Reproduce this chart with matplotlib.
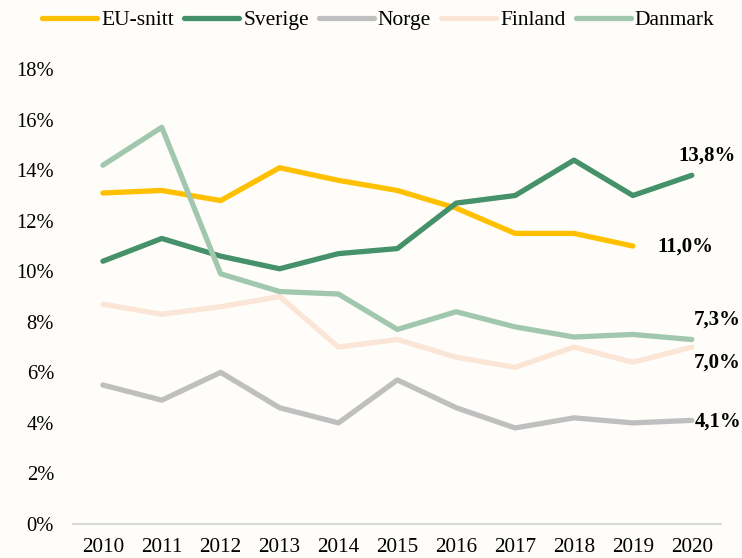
import matplotlib
matplotlib.use("Agg")
import matplotlib.pyplot as plt

years = [2010, 2011, 2012, 2013, 2014, 2015, 2016, 2017, 2018, 2019, 2020]
eu = [13.1, 13.2, 12.8, 14.1, 13.6, 13.2, 12.5, 11.5, 11.5, 11.0]
sverige = [10.4, 11.3, 10.6, 10.1, 10.7, 10.9, 12.7, 13.0, 14.4, 13.0, 13.8]
norge = [5.5, 4.9, 6.0, 4.6, 4.0, 5.7, 4.6, 3.8, 4.2, 4.0, 4.1]
finland = [8.7, 8.3, 8.6, 9.0, 7.0, 7.3, 6.6, 6.2, 7.0, 6.4, 7.0]
danmark = [14.2, 15.7, 9.9, 9.2, 9.1, 7.7, 8.4, 7.8, 7.4, 7.5, 7.3]

series = [
    ("EU-snitt", eu, "#FFC000"),
    ("Sverige", sverige, "#44916A"),
    ("Norge", norge, "#BFBFBF"),
    ("Finland", finland, "#FBE5D6"),
    ("Danmark", danmark, "#A1C8AF"),
]

plt.rcParams['font.family'] = ['Liberation Serif', 'DejaVu Serif']
bg = "#FFFDF9"
fig = plt.figure(figsize=(7.42, 5.58), dpi=100, facecolor=bg)
ax = fig.add_axes([0.099, 0.061, 0.873, 0.815], facecolor=bg)

x = list(range(len(years)))
for name, vals, col in series:
    ax.plot(x[:len(vals)], vals, color=col, lw=3.8, label=name,
            solid_capstyle='round', solid_joinstyle='round')

ax.set_xlim(-0.5, len(years) - 0.5)
ax.set_ylim(0, 18)
ax.set_yticks(range(0, 19, 2))
ax.set_yticklabels([f"{v}%" for v in range(0, 19, 2)], fontsize=14.8)
ax.set_xticks(x)
ax.set_xticklabels([str(y) for y in years], fontsize=15.2)
for s in ['top', 'right', 'left']:
    ax.spines[s].set_visible(False)
ax.spines['bottom'].set_color('#D9D9D9')
ax.spines['bottom'].set_linewidth(1.5)
ax.tick_params(axis='both', length=0)
ax.tick_params(axis='y', pad=14)
ax.tick_params(axis='x', pad=10)

def lab(xi, yv, txt, dx, dy, ha='center'):
    ax.annotate(txt, xy=(xi, yv), xytext=(dx * 0.72, dy * 0.72),
                textcoords='offset points', ha=ha, va='center',
                fontsize=15, fontweight='bold')

lab(10, sverige[10], "13,8%", 15, 20)
lab(9, eu[9], "11,0%", 52, -1)
lab(10, danmark[10], "7,3%", 25, 20)
lab(10, finland[10], "7,0%", 25, -15)
lab(10, norge[10], "4,1%", 26, -1)

leg = fig.legend(loc='center', bbox_to_anchor=(0.51, 0.964), ncol=5, frameon=False,
                 fontsize=15.5, handlelength=2.55, handletextpad=0.19,
                 columnspacing=0.47)

fig.savefig("out.png", dpi=100, facecolor=bg)
